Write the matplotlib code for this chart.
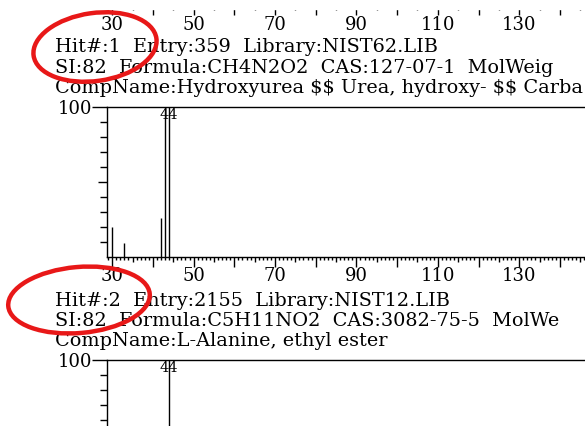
import numpy as np
import matplotlib
matplotlib.use("Agg")
import matplotlib.pyplot as plt
from matplotlib.patches import Ellipse, Rectangle

plt.rcParams['font.family'] = ['DejaVu Serif']

# spectrum data (m/z, relative intensity)
mz_hit1 = [30, 33, 42, 43, 44]
int_hit1 = [20, 9, 26, 99, 100]
mz_hit2 = [44]
int_hit2 = [100]
peak_label = 44

x_label_vals = [30, 50, 70, 90, 110, 130]

hit1_lines = ["Hit#:1  Entry:359  Library:NIST62.LIB",
              "SI:82  Formula:CH4N2O2  CAS:127-07-1  MolWeig",
              "CompName:Hydroxyurea $$ Urea, hydroxy- $$ Carba"]
hit2_lines = ["Hit#:2  Entry:2155  Library:NIST12.LIB",
              "SI:82  Formula:C5H11NO2  CAS:3082-75-5  MolWe",
              "CompName:L-Alanine, ethyl ester"]

W, H = 585, 426
FS = 13         # tick labels
FS_TXT = 13.85  # hit info lines
XMIN, XMAX = 28.72, 146.2
PX_PER_MZ = 4.07
X_LEFT = 107


def fx(px):
    return px / W


def fy(py):
    return 1 - py / H


def make_axes(fig, top_px, bottom_px, xlabels=True, ylabels=True):
    right_px = X_LEFT + (XMAX - XMIN) * PX_PER_MZ
    ax = fig.add_axes([fx(X_LEFT), fy(bottom_px), fx(right_px - X_LEFT),
                       (bottom_px - top_px) / H])
    ax.set_xlim(XMIN, XMAX)
    ax.set_ylim(0, 100)
    for s in ax.spines.values():
        s.set_linewidth(1.0)
    ax.spines['right'].set_visible(False)

    xt = np.arange(29, 147)
    ax.set_xticks(xt)
    if xlabels:
        ax.set_xticklabels([str(v) if v in x_label_vals else '' for v in xt],
                           fontsize=FS)
    else:
        ax.set_xticklabels([])
    ax.tick_params(axis='x', direction='out', length=7.2, width=1.0, pad=0.5)
    for t, v in zip(ax.xaxis.get_major_ticks(), xt):
        if v % 10 == 0:
            t.tick1line.set_markersize(7.2)
        elif v % 5 == 0:
            t.tick1line.set_markersize(3.6)
        else:
            t.tick1line.set_markersize(2.2)

    if ylabels:
        yt = np.arange(10, 101, 10)
        ax.set_yticks(yt)
        ax.set_yticklabels([''] * 9 + ['100'], fontsize=FS)
        ax.tick_params(axis='y', direction='out', length=10.8, width=1.0, pad=0)
        for t, v in zip(ax.yaxis.get_major_ticks(), yt):
            if v == 100:
                t.tick1line.set_markersize(10.8)
            elif v == 50:
                t.tick1line.set_markersize(6.8)
            else:
                t.tick1line.set_markersize(5)
    else:
        ax.set_yticks([])
    return ax


fig = plt.figure(figsize=(W / 100, H / 100), dpi=100)

# previous hit (only its m/z axis is left in view)
ax0 = make_axes(fig, -145, 5, ylabels=False)

ax1 = make_axes(fig, 107, 256.7)
ax1.vlines(mz_hit1, 0, int_hit1, color='black', lw=1.0)
ax1.annotate(str(peak_label), (peak_label, 100), xytext=(0, -1),
             textcoords='offset pixels', ha='center', va='top', fontsize=10.5)

ax2 = make_axes(fig, 360, 510, xlabels=False)
ax2.vlines(mz_hit2, 0, int_hit2, color='black', lw=1.0)
ax2.annotate(str(peak_label), (peak_label, 100), xytext=(0, -1),
             textcoords='offset pixels', ha='center', va='top', fontsize=10.5)

for lines, baselines in [(hit1_lines, [51.7, 72.7, 93.3]),
                         (hit2_lines, [305.7, 326, 346])]:
    for txt, b in zip(lines, baselines):
        fig.text(fx(55), fy(b), txt, fontsize=FS_TXT, va='baseline',
                 ha='left', parse_math=False)

# top of the screenshot is blank above the tick ends
fig.add_artist(Rectangle((0, fy(9)), 1, 9 / H, transform=fig.transFigure,
                         color='white', zorder=10))

# hand-drawn red marks
red = '#e81818'
fig.add_artist(Ellipse((95 / 100, (H - 47) / 100), 1.24, 0.68, angle=8,
                       transform=fig.dpi_scale_trans, fill=False,
                       edgecolor=red, lw=3.2, zorder=11))
fig.add_artist(Ellipse((79 / 100, (H - 300) / 100), 1.42, 0.66, angle=5,
                       transform=fig.dpi_scale_trans, fill=False,
                       edgecolor=red, lw=3.2, zorder=11))

fig.savefig("out.png", dpi=100)
